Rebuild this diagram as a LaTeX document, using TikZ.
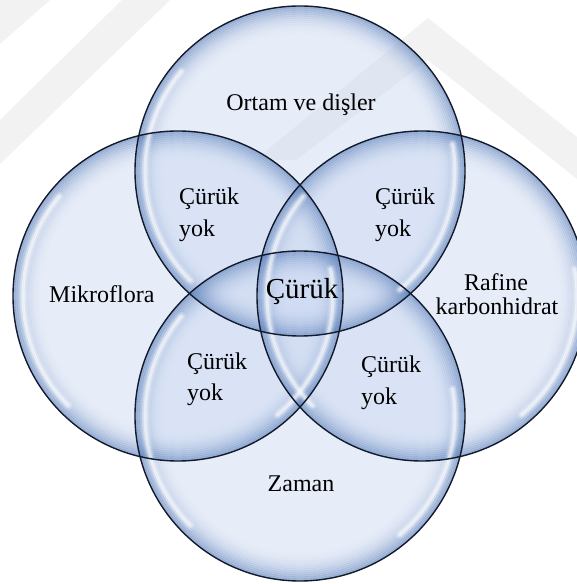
\documentclass[tikz,border=0pt]{standalone}
\usepackage{fontspec}
\setmainfont{Liberation Serif}
\usetikzlibrary{calc}

% glass-bubble palette
\definecolor{bubcore}{RGB}{206,219,243}
\definecolor{bubedge}{RGB}{74,114,178}
\definecolor{bubline}{RGB}{18,26,44}
\definecolor{wmark}{RGB}{242,242,242}

\begin{document}
\begin{tikzpicture}[x=1pt,y=1pt,
  bubblefill/.style={fill=bubcore, fill opacity=0.5},
  rimband/.style={draw=bubedge, line width=2.2pt},
  rimline/.style={draw=bubline, line width=1.4pt},
  glow/.style={draw=white, line cap=round},
  label/.style={inner sep=0pt, font=\fontsize{24}{30}\selectfont},
  biglabel/.style={inner sep=0pt, font=\fontsize{29}{34}\selectfont}]

\useasboundingbox (0,0) rectangle (577,584);
\fill[white] (0,0) rectangle (577,584);

% faint background watermark
\fill[wmark] (0,584) -- (50,584) -- (0,540) -- cycle;
\fill[wmark] (0,464) -- (122,584) -- (170,584) -- (0,420) -- cycle;
\fill[wmark] (255,424) -- (428,566) -- (577,447) -- (577,405) -- (428,524) -- (296,424) -- cycle;

% circle centres
\coordinate (ctop) at (300,413);
\coordinate (cbot) at (300,168);
\coordinate (cleft) at (178,288);
\coordinate (cright) at (422,288);
\def\R{165}

% translucent bodies
\foreach \c in {ctop,cleft,cright,cbot}{
  \fill[bubblefill] (\c) circle[radius=\R];
}

% blue rim fading inwards
\foreach \c in {ctop,cleft,cright,cbot}{
  \foreach \k in {0,...,13}{
    \pgfmathsetmacro{\op}{0.45*((14-\k)/14)^2}
    \pgfmathsetmacro{\rr}{\R-1.1-2*\k}
    \draw[rimband, draw opacity=\op] (\c) circle[radius=\rr];
  }
}

% soft specular highlights inside the rims
\foreach \c in {ctop,cleft,cright,cbot}{
  \foreach \w/\o in {9/0.18,5.5/0.3,3/0.45}{
    \draw[glow, line width=\w pt, draw opacity=\o]
      ([shift={(140:155)}]\c) arc[start angle=140, end angle=225, radius=155];
    \draw[glow, line width=\w pt, draw opacity=\o]
      ([shift={(-50:155)}]\c) arc[start angle=-50, end angle=10, radius=155];
  }
}

% outlines
\foreach \c in {ctop,cleft,cright,cbot}{
  \draw[rimline] (\c) circle[radius=\R];
}

% labels
\node[label, anchor=base] (ortam) at (301,473) {Ortam ve dişler};
\node[label, anchor=base west] (mikro) at (49,281) {Mikroflora};
\node[label, anchor=base] (rafine) at (496,293) {Rafine};
\node[label, anchor=base] (karbon) at (497,269) {karbonhidrat};
\node[label, anchor=base] (zaman) at (301,92) {Zaman};

\node[label, anchor=base west] (tlA) at (179,379) {Çürük};
\node[label, anchor=base west] (tlB) at (179,347) {yok};
\node[label, anchor=base west] (trA) at (375,379) {Çürük};
\node[label, anchor=base west] (trB) at (375,347) {yok};
\node[label, anchor=base west] (blA) at (187,214) {Çürük};
\node[label, anchor=base west] (blB) at (187,183) {yok};
\node[label, anchor=base west] (brA) at (361,211) {Çürük};
\node[label, anchor=base west] (brB) at (361,179) {yok};

\node[biglabel, anchor=base] (core) at (302,285) {Çürük};
\end{tikzpicture}
\end{document}
